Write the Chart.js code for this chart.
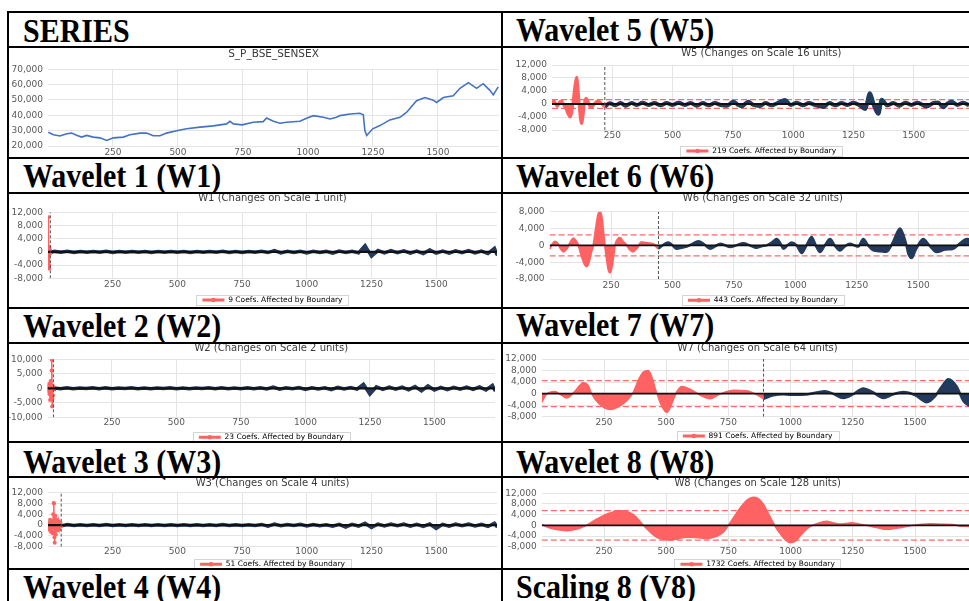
<!DOCTYPE html>
<html>
<head>
<meta charset="utf-8">
<script src="https://cdn.jsdelivr.net/npm/chart.js@4.4.1/dist/chart.umd.min.js"></script>
<style>
  html, body { margin: 0; padding: 0; background: #fff; overflow: hidden; }
  #page { position: relative; width: 969px; height: 601px; overflow: hidden; }
  .hl, .vl { position: absolute; background: #000; }
  .cell-title { position: absolute; font: bold 30px 'Liberation Serif', 'Times New Roman', serif; line-height: 30px;
    color: #000; white-space: nowrap; transform: scaleY(1.1); transform-origin: 0 0; }
  canvas { position: absolute; }
</style>
</head>
<body>
<div id="page"></div>
<script>
// ---------- data ----------
const xTicks = [250, 500, 750, 1000, 1250, 1500];
const xMax = 1735;

// S&P BSE SENSEX level
const senIdx = [1,21,46,72,91,110,129,149,174,200,226,251,290,315,354,379,405,431,456,499,533,585,636,687,700,713,747,790,828,841,867,892,918,969,997,1021,1059,1085,1110,1123,1162,1200,1213,1219,1226,1249,1277,1315,1354,1379,1418,1450,1482,1495,1521,1559,1585,1617,1649,1674,1700,1713,1732];
const senVal = [29000,27300,26500,28000,28400,27000,25800,26900,25800,25300,23600,25300,25800,27300,28400,28400,26700,26700,28400,30100,31200,32300,33100,34400,36100,34400,33800,35500,35900,38300,36100,34800,35500,36100,38300,39800,38700,37600,38700,39800,40900,41300,40400,30100,26900,31200,33300,37000,38700,41900,49500,51600,49900,48400,51600,52700,57600,61300,57600,60600,56300,53300,58500];

// shared sampling of the noisy fine-scale coefficients
const bandIdx = [25,50,75,100,125,150,175,200,225,250,275,300,325,350,375,400,425,450,475,500,525,550,575,600,625,650,675,700,725,750,775,800,825,850,875,900,925,950,975,1000,1025,1050,1075,1100,1125,1150,1175,1200,1225,1250,1275,1300,1325,1350,1375,1400,1425,1450,1475,1500,1525,1550,1575,1600,1625,1650,1675,1700,1725,1735];

// W1
const w1RedIdx = [0,1,2,3,4,5,6,7,8,9];
const w1RedVal = [1200,10500,-3000,800,-5000,-4200,1500,-500,600,-200];
const w1Band = [150,-120,180,-150,120,-100,150,-120,180,-150,
  120,-100,150,-120,100,-150,120,-100,150,-120,
  100,-150,120,-100,150,-120,180,-150,120,-180,
  150,-120,180,-200,400,-300,180,-150,200,-350,
  180,-200,150,-400,250,-180,200,-300,1900,-1300,
  400,-300,400,-250,300,-400,250,-500,600,-350,
  250,-400,300,-250,400,-300,250,-500,1100,-900];

// W2
const w2RedIdx = [0,2,4,6,8,10,12,14,16,17,18,19,20,21,22,23];
const w2RedVal = [500,-1000,1500,-2000,800,-4000,2500,-3000,6100,9800,-6300,-3500,1000,-2500,500,-300];
const w2Band = [150,-120,180,-150,120,-100,150,-120,180,-150,
  120,-100,150,-120,100,-150,120,-100,150,-120,
  100,-150,120,-100,150,-120,180,-150,120,-180,
  150,-120,200,-250,450,-300,200,-150,250,-400,
  200,-250,150,-450,300,-200,250,-300,1400,-2000,
  500,-350,450,-300,400,-500,600,-900,800,-600,
  300,-450,350,-300,450,-400,500,-600,1000,-800];

// W3
const w3RedIdx = [0,4,8,12,16,18,20,22,23,24,25,26,28,30,33,36,40,44,48,51];
const w3RedVal = [1000,-1500,2000,-2500,1500,-3000,4000,8200,8000,-2000,-4500,-6500,3500,-3500,2000,-2000,1500,-1500,800,-300];
const w3Band = [150,-120,180,-150,120,-100,150,-120,180,-150,
  120,-100,150,-120,100,-150,120,-100,150,-120,
  100,-150,120,-100,150,-120,180,-150,120,-180,
  150,-120,250,-400,350,-250,200,-150,300,-350,
  200,-250,150,-400,300,-700,300,-350,700,-900,
  400,-300,400,-250,350,-400,300,-500,400,-1200,
  300,-400,350,-250,400,-300,250,-500,700,-600];

// W5
const w5RedIdx = [0,6,14,22,30,40,50,58,66,75,82,88,95,102,108,114,119,123,128,134,141,148,156,164,175,185,192,204,213,219];
const w5RedVal = [800,1100,200,-800,500,900,-500,-1500,-3000,-4000,-2500,1000,5500,8200,4500,-1500,-5000,-6000,-4000,0,1800,1000,-600,-1000,0,800,1000,200,-500,-800];
const w5NavyIdx = [219,240,262,285,305,330,352,375,400,425,450,475,500,525,550,575,600,625,650,675,700,725,752,770,786,800,814,835,862,885,910,935,966,990,1015,1040,1065,1090,1125,1150,1175,1200,1225,1250,1275,1298,1318,1335,1353,1367,1390,1415,1440,1465,1490,1515,1553,1580,1600,1622,1640,1657,1680,1705,1729];
const w5NavyVal = [-800,200,-400,300,-500,300,-300,400,-300,300,-400,300,-300,400,-300,300,-500,300,-400,300,-300,-500,700,-200,-700,0,700,-300,-600,300,-400,300,1200,-300,400,-400,300,-300,-900,300,-400,300,-300,400,-400,-1500,3300,-500,-3000,1300,-400,300,-500,400,-300,400,-800,300,500,-1000,200,700,-300,400,-400];

// W6
const w6RedIdx = [0,10,22,35,45,56,70,85,97,108,117,130,142,151,160,170,178,188,197,205,213,220,225,233,240,246,252,260,266,276,286,298,314,326,339,355,374,390,402,420,442];
const w6RedVal = [-900,200,900,300,-800,-1500,-800,800,1700,1000,0,-2500,-4500,-5000,-4000,-1500,0,4000,7200,8000,6500,2500,0,-3500,-6000,-6500,-5500,-2500,0,1400,1800,1000,0,-1000,-1500,-700,800,600,500,400,-800];
const w6NavyIdx = [442,483,500,517,540,558,580,605,630,653,675,694,715,734,760,788,815,842,862,883,905,924,940,951,968,985,1005,1026,1045,1066,1083,1100,1120,1141,1160,1181,1200,1222,1240,1256,1276,1296,1317,1345,1371,1395,1426,1450,1460,1473,1490,1520,1545,1575,1610,1642,1670,1697,1720,1735];
const w6NavyVal = [-800,700,0,-800,-500,-300,300,1000,200,-800,-200,400,0,-400,0,500,0,-600,-200,0,700,1500,400,-800,0,700,0,-1800,0,2000,0,-1600,0,1500,0,-1200,-300,400,0,-300,1500,0,-1200,-1400,-1500,500,4000,500,-2000,-3000,-1000,1500,0,-1600,-1000,-800,500,1500,1200,800];

// W7
const w7RedIdx = [0,16,33,53,75,100,130,167,185,200,230,274,310,341,368,390,408,428,445,455,465,475,502,515,529,545,562,596,636,676,720,770,823,860,891];
const w7RedVal = [-3000,-500,500,700,-300,-1500,500,3800,3000,0,-3500,-5500,-4500,-2500,500,5000,7500,8000,5000,2000,-500,-3000,-6500,-5000,-2000,1000,2500,1500,-500,-1800,0,1200,1000,-200,-1800];
const w7NavyIdx = [891,930,971,1000,1024,1060,1100,1138,1170,1212,1250,1292,1330,1373,1410,1453,1500,1547,1580,1608,1634,1667,1694,1714,1735];
const w7NavyVal = [-1800,-600,-200,-400,-400,-300,300,800,0,-1500,-300,1800,500,-1500,-300,600,-500,-3000,-1000,2500,5000,2500,-2500,-4000,-4500];

// W8 (all coefficients affected by the boundary)
const w8RedIdx = [0,33,66,100,130,154,180,205,234,270,314,340,368,390,408,435,462,490,515,550,582,620,663,690,716,735,750,775,797,825,850,870,890,910,930,945,957,980,998,1018,1038,1058,1078,1110,1145,1170,1198,1220,1245,1275,1305,1345,1386,1430,1480,1520,1560,1614,1650,1681,1714,1735];
const w8RedVal = [300,-1000,-1700,-2000,-1600,-1000,0,1500,3000,4500,5500,5200,4000,2000,0,-2500,-4500,-5300,-5500,-5000,-4500,-4600,-5000,-4500,-3500,-2000,0,3500,6500,9500,10500,10000,8000,4500,1000,-1500,-3000,-5500,-6500,-6000,-4000,-2000,-500,800,1500,1000,500,700,1000,500,0,-800,-1500,-1000,-200,300,600,400,300,-300,-400,-500];

// ---------- styles ----------
const RED = '#ff6262';
const NAVY = '#233a5c';
const DASH_RED = '#ff6b6b';
const GRID = '#e4e4e4';

Chart.defaults.font.family = "'DejaVu Sans', Verdana, sans-serif";
Chart.defaults.color = '#595959';

const page = document.getElementById('page');

// table rules
[11, 46, 157, 192, 307, 342, 441, 476, 568].forEach(y => {
  const d = document.createElement('div');
  d.className = 'hl';
  d.style.cssText = `left:7px;top:${y}px;width:962px;height:2px`;
  page.appendChild(d);
});
[7, 501].forEach(x => {
  const d = document.createElement('div');
  d.className = 'vl';
  d.style.cssText = `left:${x}px;top:11px;width:2px;height:590px`;
  page.appendChild(d);
});

// cell headings
const headings = [
  ['SERIES', 23, 42], ['Wavelet 5 (W5)', 516, 41],
  ['Wavelet 1 (W1)', 23, 187], ['Wavelet 6 (W6)', 516, 187],
  ['Wavelet 2 (W2)', 23, 337], ['Wavelet 7 (W7)', 516, 336],
  ['Wavelet 3 (W3)', 23, 473], ['Wavelet 8 (W8)', 516, 473],
  ['Wavelet 4 (W4)', 23, 598], ['Scaling 8 (V8)', 516, 598]
];
headings.forEach(([t, x, base]) => {
  const d = document.createElement('div');
  d.className = 'cell-title';
  d.textContent = t;
  d.style.left = x + 'px';
  d.style.top = (base - 27.6) + 'px';
  page.appendChild(d);
});

function addCanvas(box) {
  const c = document.createElement('canvas');
  c.width = box.w; c.height = box.h;
  c.style.left = box.x + 'px'; c.style.top = box.y + 'px';
  c.style.width = box.w + 'px'; c.style.height = box.h + 'px';
  page.appendChild(c);
  return c;
}

const pts = (xs, ys) => xs.map((x, i) => ({ x, y: ys[i] }));

// turn page coordinates of the plot into chart paddings
function frame(L, box) {
  const tLH = 6, itemH = 7.5, lgPad = 4;
  const bottom = box.y + box.h;
  const tTop = L.titleY - box.y - tLH / 2;
  const legH = L.legendY ? bottom - L.legendY + lgPad + itemH / 2 : 0;
  return {
    titlePad: { top: tTop, bottom: L.plotT - box.y - tTop - tLH },
    legH,
    axisH: bottom - legH - L.plotB,
    yW: L.plotL - box.x,
    padR: box.x + box.w - L.plotR,
    tickPad: Math.max(0, L.tickY - L.plotB - 4.5)
  };
}

const legendFrame = {
  id: 'legendFrame',
  afterDraw(chart) {
    const lg = chart.legend;
    if (!lg || !lg.options.display || !lg.legendHitBoxes || !lg.legendHitBoxes.length) return;
    const hb = lg.legendHitBoxes[0];
    const ctx = chart.ctx;
    const cy = hb.top + hb.height / 2;
    ctx.save();
    ctx.strokeStyle = '#d4d4d4';
    ctx.lineWidth = 1;
    ctx.strokeRect(Math.round(hb.left - 6) + 0.5, Math.round(cy - 5) + 0.5, Math.round(hb.width + 12), 10);
    ctx.fillStyle = RED;
    ctx.beginPath();
    ctx.arc(hb.left + 11, cy, 2.2, 0, Math.PI * 2);
    ctx.fill();
    ctx.restore();
  }
};
Chart.register(legendFrame);

function baseOptions(spec, f) {
  return {
    responsive: false, animation: false, devicePixelRatio: 1, events: [],
    layout: { padding: { left: 0, right: f.padR, top: 0, bottom: 0 } },
    plugins: {
      title: { display: true, text: spec.title, fullSize: false, color: '#3a3a3a',
        font: { size: spec.titleSize || 10, weight: 'normal', lineHeight: 0.6 }, padding: f.titlePad },
      legend: spec.legend ? {
        display: true, position: 'bottom', fullSize: false, maxHeight: f.legH,
        labels: { boxWidth: 22, boxHeight: 3, padding: 4, color: '#595959', font: { size: 7.5 },
          generateLabels: () => [{ text: spec.legend, fillStyle: RED, strokeStyle: RED, lineWidth: 0, hidden: false, datasetIndex: 2 }] }
      } : { display: false },
      tooltip: { enabled: false }
    },
    scales: {
      x: {
        type: 'linear', min: 0, max: xMax,
        afterBuildTicks: a => { a.ticks = xTicks.map(v => ({ value: v })); },
        afterFit: a => { a.height = f.axisH; },
        grid: { color: GRID, drawTicks: false },
        border: { display: false },
        ticks: { autoSkip: false, maxRotation: 0, padding: f.tickPad, font: { size: 9, lineHeight: 1 }, callback: v => String(v) }
      },
      y: {
        min: spec.yMin, max: spec.yMax,
        afterFit: a => { a.width = f.yW; },
        grid: { color: GRID, drawTicks: false },
        border: { display: false },
        ticks: { stepSize: spec.yStep, autoSkip: false, padding: 5, font: { size: 9, lineHeight: 1 },
          callback: v => v.toLocaleString('en-US') }
      }
    }
  };
}

function waveChart(spec) {
  const f = frame(spec.L, spec.box);
  const canvas = addCanvas(spec.box);
  const thick = spec.fine;
  const line = (data, color, w, dash) => ({ data, borderColor: color, borderWidth: w, borderDash: dash || [],
    pointRadius: 0, fill: false, tension: 0 });
  const ds = [];
  ds.push(line([{ x: spec.boundary, y: spec.yMin }, { x: spec.boundary, y: spec.yMax }], '#555', 1, [3, 2]));
  ds.push(line([{ x: 0, y: 0 }, { x: xMax, y: 0 }], '#111', thick ? 2.2 : 1.8));
  ds.push({
    label: spec.legend, data: pts(spec.redIdx, spec.redVal),
    borderColor: RED, backgroundColor: RED, fill: 'origin',
    borderWidth: thick ? 1.5 : spec.redW || 1.5,
    pointRadius: thick ? 2 : 0, pointBackgroundColor: RED, pointBorderWidth: 0,
    cubicInterpolationMode: thick ? 'default' : 'monotone', tension: 0
  });
  ds.push({
    data: spec.navyIdx ? pts(spec.navyIdx, spec.navyVal) : [],
    borderColor: NAVY, backgroundColor: NAVY, fill: 'origin',
    borderWidth: thick ? 3.5 : spec.navyW || 1.5,
    pointRadius: thick ? 1.3 : 0, pointBackgroundColor: NAVY, pointBorderWidth: 0,
    cubicInterpolationMode: thick ? 'default' : 'monotone', tension: 0
  });
  if (spec.threshold) {
    ds.push(line([{ x: 0, y: spec.threshold }, { x: xMax, y: spec.threshold }], DASH_RED, 1.3, [6, 3]));
    ds.push(line([{ x: 0, y: -spec.threshold }, { x: xMax, y: -spec.threshold }], DASH_RED, 1.3, [6, 3]));
  }
  return new Chart(canvas, { type: 'line', data: { datasets: ds }, options: baseOptions(spec, f) });
}

// ---------- SERIES ----------
(function () {
  const box = { x: 9, y: 48, w: 492, h: 109 };
  const L = { plotL: 48, plotR: 499, plotT: 69, plotB: 146, titleY: 54, tickY: 153 };
  const spec = { title: 'S_P_BSE_SENSEX', titleSize: 10.5, yMin: 20000, yMax: 70000, yStep: 10000 };
  const f = frame(L, box);
  new Chart(addCanvas(box), {
    type: 'line',
    data: { datasets: [{ data: pts(senIdx, senVal), borderColor: '#4472c4', borderWidth: 1.6, pointRadius: 0, fill: false, tension: 0 }] },
    options: baseOptions(spec, f)
  });
})();

// ---------- wavelet panels ----------
const LEFT = { x: 9, w: 492 }, RIGHT = { x: 503, w: 482 };
const rowBox = [{ y: 48, h: 109 }, { y: 194, h: 113 }, { y: 344, h: 97 }, { y: 478, h: 90 }];
const bx = (col, r) => ({ x: col.x, w: col.w, y: rowBox[r].y, h: rowBox[r].h });
const navyFrom = (b, v0, vals) => ({
  idx: [b].concat(bandIdx.filter(i => i > b)),
  val: [v0].concat(vals.filter((_, k) => bandIdx[k] > b))
});

const w1N = navyFrom(9, -200, w1Band);
waveChart({ title: 'W1 (Changes on Scale 1 unit)', legend: '9 Coefs. Affected by Boundary', fine: true,
  yMin: -8000, yMax: 12000, yStep: 4000, boundary: 9,
  redIdx: w1RedIdx, redVal: w1RedVal, navyIdx: w1N.idx, navyVal: w1N.val,
  box: bx(LEFT, 1), L: { plotL: 48, plotR: 497.7, plotT: 212.3, plotB: 278.3, titleY: 198, tickY: 285, legendY: 300 } });

const w2N = navyFrom(23, -300, w2Band);
waveChart({ title: 'W2 (Changes on Scale 2 units)', legend: '23 Coefs. Affected by Boundary', fine: true,
  yMin: -10000, yMax: 10000, yStep: 5000, boundary: 23,
  redIdx: w2RedIdx, redVal: w2RedVal, navyIdx: w2N.idx, navyVal: w2N.val,
  box: bx(LEFT, 2), L: { plotL: 47.5, plotR: 495, plotT: 359.3, plotB: 417.3, titleY: 348, tickY: 422.7, legendY: 437.3 } });

const w3N = navyFrom(51, -300, w3Band);
waveChart({ title: 'W3 (Changes on Scale 4 units)', legend: '51 Coefs. Affected by Boundary', fine: true,
  yMin: -8000, yMax: 12000, yStep: 4000, boundary: 51,
  redIdx: w3RedIdx, redVal: w3RedVal, navyIdx: w3N.idx, navyVal: w3N.val,
  box: bx(LEFT, 3), L: { plotL: 48, plotR: 497, plotT: 492.7, plotB: 546.7, titleY: 483, tickY: 551, legendY: 564.3 } });

waveChart({ title: 'W5 (Changes on Scale 16 units)', legend: '219 Coefs. Affected by Boundary',
  yMin: -8000, yMax: 12000, yStep: 4000, boundary: 219, threshold: 1350, redW: 3, navyW: 4,
  redIdx: w5RedIdx, redVal: w5RedVal, navyIdx: w5NavyIdx, navyVal: w5NavyVal,
  box: bx(RIGHT, 0), L: { plotL: 552, plotR: 970.5, plotT: 65, plotB: 130, titleY: 53, tickY: 136, legendY: 151 } });

waveChart({ title: 'W6 (Changes on Scale 32 units)', legend: '443 Coefs. Affected by Boundary',
  yMin: -8000, yMax: 8000, yStep: 4000, boundary: 443, threshold: 2500, redW: 2, navyW: 2.5,
  redIdx: w6RedIdx, redVal: w6RedVal, navyIdx: w6NavyIdx, navyVal: w6NavyVal,
  box: bx(RIGHT, 1), L: { plotL: 549.6, plotR: 976, plotT: 211.7, plotB: 279, titleY: 198, tickY: 285.7, legendY: 300.3 } });

waveChart({ title: 'W7 (Changes on Scale 64 units)', legend: '891 Coefs. Affected by Boundary',
  yMin: -8000, yMax: 12000, yStep: 4000, boundary: 891, threshold: 4500, redW: 1.5, navyW: 2.5,
  redIdx: w7RedIdx, redVal: w7RedVal, navyIdx: w7NavyIdx, navyVal: w7NavyVal,
  box: bx(RIGHT, 2), L: { plotL: 541.8, plotR: 973.5, plotT: 359, plotB: 416.7, titleY: 348, tickY: 422.3, legendY: 436 } });

waveChart({ title: 'W8 (Changes on Scale 128 units)', legend: '1732 Coefs. Affected by Boundary',
  yMin: -8000, yMax: 12000, yStep: 4000, boundary: 1732, threshold: 5500, redW: 1.5,
  redIdx: w8RedIdx, redVal: w8RedVal, navyIdx: null,
  box: bx(RIGHT, 3), L: { plotL: 541.8, plotR: 973.5, plotT: 493.3, plotB: 546.7, titleY: 483, tickY: 551, legendY: 564.3 } });
</script>
</body>
</html>
